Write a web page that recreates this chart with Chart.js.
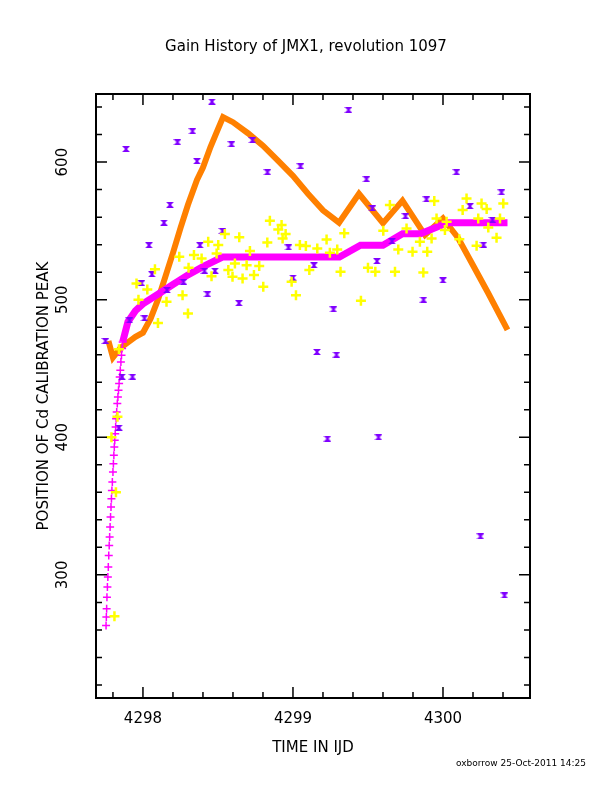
<!DOCTYPE html>
<html><head><meta charset="utf-8">
<script src="https://cdn.jsdelivr.net/npm/chart.js@4/dist/chart.umd.min.js"></script>
<style>html,body{margin:0;padding:0;background:#fff}#w{width:612px;height:792px}</style>
</head><body><div id="w"><canvas id="c" width="612" height="792"></canvas></div>
<script>
const titleText = "Gain History of JMX1, revolution 1097";
const xLabel = "TIME IN IJD";
const yLabel = "POSITION OF Cd CALIBRATION PEAK";
const footer = "oxborrow 25-Oct-2011 14:25";
const xTicks = [4298, 4299, 4300];
const yTicks = [300, 400, 500, 600];
const xRange = [4297.687, 4300.58];
const yRange = [210.5, 649.5];

const orangeX = [4297.77,4297.80,4297.85,4297.90,4297.95,4298.00,4298.05,4298.10,4298.15,4298.20,4298.25,4298.30,4298.36,4298.40,4298.45,4298.50,4298.534,4298.60,4298.70,4298.80,4298.90,4299.00,4299.10,4299.20,4299.307,4299.44,4299.60,4299.73,4299.88,4300.00,4300.10,4300.20,4300.30,4300.43];
const orangeY = [470,458,465,469,473,476,486,500,517,534,552,569,587,596,611,624,632.7,629,621,612,601,590,577,565,556,577,555.6,572,547,559,545,525,505,478];

const magX = [4297.754,4297.756,4297.758,4297.760,4297.763,4297.766,4297.769,4297.772,4297.775,4297.778,4297.781,4297.784,4297.787,4297.790,4297.793,4297.796,4297.800,4297.803,4297.806,4297.809,4297.812,4297.815,4297.818,4297.821,4297.825,4297.829,4297.833,4297.837,4297.841,4297.845,4297.849,4297.853,4297.857,4297.861,4297.865];
const magY = [263.2,269.3,275.4,283.8,291.1,298.4,305.7,314.1,321.4,327.5,334.8,342,349.3,355.4,361.4,367.5,374.8,380.8,386.9,393,397.8,402.6,407.5,413.5,418.4,424.5,429.3,434.2,439,443.8,448.7,454.8,459.6,464.5,469.3];
const magLineX = [4297.865,4297.90,4297.95,4298.00,4298.10,4298.20,4298.30,4298.40,4298.53,4299.31,4299.45,4299.60,4299.73,4299.85,4300.03,4300.43];
const magLineY = [469.3,484,492,497,504,511,518,524,531,531,539.6,539.6,548,548,556,556];

const yelX = [4297.957,4298.080,4298.242,4298.340,4298.391,4298.435,4298.502,4298.546,4298.642,4298.713,4298.775,4298.846,4298.902,4298.931,4298.951,4298.829,4299.086,4299.162,4299.224,4299.295,4299.246,4299.342,4299.317,4299.500,4299.549,4299.680,4299.602,4299.646,4299.702,4299.797,4299.846,4299.895,4299.869,4299.924,4299.942,4300.013,4300.109,4300.157,4300.131,4300.257,4300.291,4300.235,4300.302,4300.357,4300.224,4300.402,4300.380,4300.024,4299.957,4298.802,4299.020,4299.453,4298.264,4298.157,4298.029,4298.691,4298.613,4298.664,4298.740,4298.597,4298.457,4298.569,4298.304,4299.109,4298.491,4298.924,4299.757,4299.046,4298.991,4297.97,4298.10,4298.30,4297.83,4297.82,4297.81,4297.84,4297.79];
const yelY = [511.8,522.2,531.2,532.4,530.0,542.1,539.7,547.7,545.3,535.3,524.4,557.4,551.1,544.5,547.7,541.6,539.0,537.2,543.8,536.5,534.1,548.2,520.3,523.2,520.3,520.3,550.1,568.8,536.5,534.8,542.1,534.8,519.8,544.5,571.7,550.6,544.0,573.6,565.1,570.0,565.9,559.1,552.5,545.0,539.2,570.0,559.1,556.6,559.1,509.4,503.3,499.2,503.3,498.5,507.4,525.1,526.3,515.4,517.9,516.6,517.1,521.5,523.2,521.5,533.6,554.2,551.8,539.7,513.0,500,483,490,415,360,270,464,400];

const purX = [4297.887,4298.46,4298.33,4298.23,4298.36,4298.59,4298.73,4298.83,4299.05,4299.37,4299.49,4300.09,4300.39,4299.89,4300.18,4298.18,4298.14,4298.04,4298.06,4297.99,4298.16,4298.27,4298.41,4298.48,4298.38,4298.53,4298.43,4298.64,4298.97,4299.14,4299.00,4299.27,4299.56,4299.66,4299.75,4300.00,4299.87,4300.27,4300.33,4299.53,4299.16,4299.29,4299.23,4299.57,4300.25,4300.41,4297.86,4297.93,4297.91,4298.01,4297.84,4297.75];
const purY = [609.5,644,622.5,614.5,600.7,613,616,592.7,597,638,587.6,592.7,578,573,568,569,556,539.6,518.5,512,507,513,521,521,539.6,550,504,497.5,538,525,516,493,528,542.5,560.7,514,500,540,558,566.5,462,460,399,400,328,285,444,444,485,486.5,407,470];

function pts(xs, ys){ return xs.map((x,i)=>({x:x,y:ys[i]})); }

const hg = document.createElement('canvas'); hg.width=8; hg.height=6;
(function(){const g=hg.getContext('2d'); g.fillStyle='#8000ff';
 g.beginPath(); g.moveTo(0,0); g.lineTo(8,0); g.lineTo(5,3); g.lineTo(8,6); g.lineTo(0,6); g.lineTo(3,3); g.closePath(); g.fill();})();

const frame = {
  id:'frame',
  afterDraw(chart){
    const c=chart.ctx, a=chart.chartArea, xs=chart.scales.x, ys=chart.scales.y;
    c.save();
    c.strokeStyle='#000'; c.lineWidth=2;
    c.strokeRect(a.left,a.top,a.right-a.left,a.bottom-a.top);
    c.lineWidth=1.5;
    for(let v=4297.8; v<4300.6; v+=0.2){
      const p=xs.getPixelForValue(v); if(p<a.left||p>a.right) continue;
      const major=Math.abs(v-Math.round(v))<0.01, L=major?11:6;
      c.beginPath(); c.moveTo(p,a.bottom); c.lineTo(p,a.bottom-L); c.moveTo(p,a.top); c.lineTo(p,a.top+L); c.stroke();
    }
    for(let v=220; v<650; v+=20){
      const p=ys.getPixelForValue(v);
      const major=v%100===0, L=major?11:6;
      c.beginPath(); c.moveTo(a.left,p); c.lineTo(a.left+L,p); c.moveTo(a.right,p); c.lineTo(a.right-L,p); c.stroke();
    }
    c.fillStyle='#000'; c.font='15px "DejaVu Sans"'; c.textAlign='center'; c.textBaseline='middle';
    xTicks.forEach(t=>c.fillText(String(t), xs.getPixelForValue(t), 719));
    yTicks.forEach(t=>{c.save(); c.translate(63, ys.getPixelForValue(t)); c.rotate(-Math.PI/2); c.fillText(String(t),0,0); c.restore();});
    c.fillText(titleText, 306, 47);
    c.fillText(xLabel, 313, 748);
    c.save(); c.translate(44, 396); c.rotate(-Math.PI/2); c.fillText(yLabel,0,0); c.restore();
    c.font='9px "DejaVu Sans"'; c.textAlign='right'; c.fillText(footer, 586, 764);
    c.restore();
  }
};

new Chart(document.getElementById('c'), {
  type:'scatter',
  data:{datasets:[
    {data:pts(yelX,yelY), pointStyle:'cross', pointRadius:5, borderColor:'#ffff00', borderWidth:2.5, showLine:false},
    {data:pts(purX,purY), pointStyle:hg, showLine:false},
    {data:pts(magX,magY), pointStyle:'cross', pointRadius:4, borderColor:'#ff00ff', borderWidth:1.5, showLine:false},
    {data:pts(magLineX,magLineY), showLine:true, borderColor:'#ff00ff', borderWidth:7, pointRadius:0, tension:0},
    {data:pts(orangeX,orangeY), showLine:true, borderColor:'#ff8000', borderWidth:6, pointRadius:0, tension:0}
  ]},
  options:{responsive:false, animation:false, devicePixelRatio:1,
    layout:{padding:{left:96,right:82,top:94,bottom:94}},
    plugins:{legend:{display:false},tooltip:{enabled:false}},
    scales:{x:{type:'linear',min:xRange[0],max:xRange[1],display:false},
            y:{type:'linear',min:yRange[0],max:yRange[1],display:false}}},
  plugins:[frame]
});
</script></body></html>
